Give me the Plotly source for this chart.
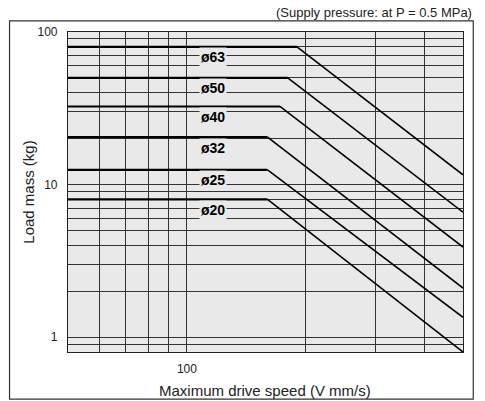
import numpy as np
import plotly.graph_objects as go

# ---- data ----
bores = ["ø63", "ø50", "ø40", "ø32", "ø25", "ø20"]
plateau_mass = [80, 50, 32.5, 20.5, 12.5, 8]        # kg (flat part)
knee_speed = [190, 180, 172, 160, 160, 160]          # mm/s where the line starts falling
end_speed = [500, 500, 500, 500, 500, 500]           # mm/s at right end
end_mass = [11.6, 6.6, 3.9, 2.1, 1.35, 0.8]          # kg at right end
start_speed = 50

x_grid = [50, 60, 70, 80, 90, 100, 200, 300, 400, 500]
x_labels = ["", "", "", "", "", "100", "", "", "", ""]
y_grid = [0.8, 0.9, 1, 2, 3, 4, 5, 6, 7, 8, 9, 10, 20, 30, 40, 50, 60, 70, 80, 90, 100]
y_labels = ["" if v not in (1, 10, 100) else str(v) for v in y_grid]

FONT = "Liberation Sans, Arial, sans-serif"
BG = "#e9e9e9"

fig = go.Figure()
for name, pm, ks, es, em in zip(bores, plateau_mass, knee_speed, end_speed, end_mass):
    fig.add_trace(go.Scatter(x=[start_speed, ks], y=[pm, pm], mode="lines",
                             line=dict(color="black", width=2.2), showlegend=False,
                             hoverinfo="skip"))
    fig.add_trace(go.Scatter(x=[ks, es], y=[pm, em], mode="lines",
                             line=dict(color="black", width=1.6), showlegend=False,
                             hoverinfo="skip"))
    fig.add_annotation(x=np.log10(107), y=np.log10(pm), text="<b>" + name + "</b>",
                       showarrow=False, xanchor="left", yanchor="middle", yshift=-10.5,
                       font=dict(family=FONT, size=14, color="black"),
                       bgcolor=BG, borderpad=1)

fig.update_xaxes(type="log", range=[np.log10(50), np.log10(500)],
                 tickvals=x_grid, ticktext=x_labels, automargin=False,
                 showgrid=True, gridcolor="#333", gridwidth=1.2,
                 showline=True, linecolor="#222", linewidth=1.2, mirror=True,
                 ticks="", ticklabelstandoff=5,
                 tickfont=dict(family=FONT, size=12, color="#222"),
                 zeroline=False)
fig.update_yaxes(type="log", range=[np.log10(0.8), 2],
                 tickvals=y_grid, ticktext=y_labels, automargin=False,
                 showgrid=True, gridcolor="#333", gridwidth=1.2,
                 showline=True, linecolor="#222", linewidth=1.2, mirror=True,
                 ticks="", ticklabelstandoff=7,
                 tickfont=dict(family=FONT, size=12, color="#222"),
                 zeroline=False)

# axis titles
fig.add_annotation(xref="paper", yref="paper", x=0.499, y=-0.119,
                   text="Maximum drive speed (V mm/s)", showarrow=False,
                   xanchor="center", yanchor="middle",
                   font=dict(family=FONT, size=15, color="#222"))
fig.add_annotation(xref="paper", yref="paper", x=-0.102, y=0.5,
                   text="Load mass (kg)", showarrow=False, textangle=-90,
                   xanchor="center", yanchor="middle",
                   font=dict(family=FONT, size=15, color="#222"))

# outer frame
fig.add_shape(type="rect", xref="paper", yref="paper",
              x0=-0.148, x1=1.026, y0=-0.147, y1=1.035,
              line=dict(color="#333", width=1.2), fillcolor="rgba(0,0,0,0)")
fig.add_annotation(xref="paper", yref="paper", x=1.027, y=1.060,
                   text="(Supply pressure: at P = 0.5 MPa)", showarrow=False,
                   xanchor="right", yanchor="middle",
                   font=dict(family=FONT, size=13, color="#222"))

fig.update_layout(width=485, height=401,
                  margin=dict(l=68, r=22, t=32, b=49),
                  paper_bgcolor="white", plot_bgcolor=BG,
                  showlegend=False)
fig.write_html("out.html", config={"displayModeBar": False},
               post_script="document.body.style.margin='0';document.body.style.overflow='hidden';")
